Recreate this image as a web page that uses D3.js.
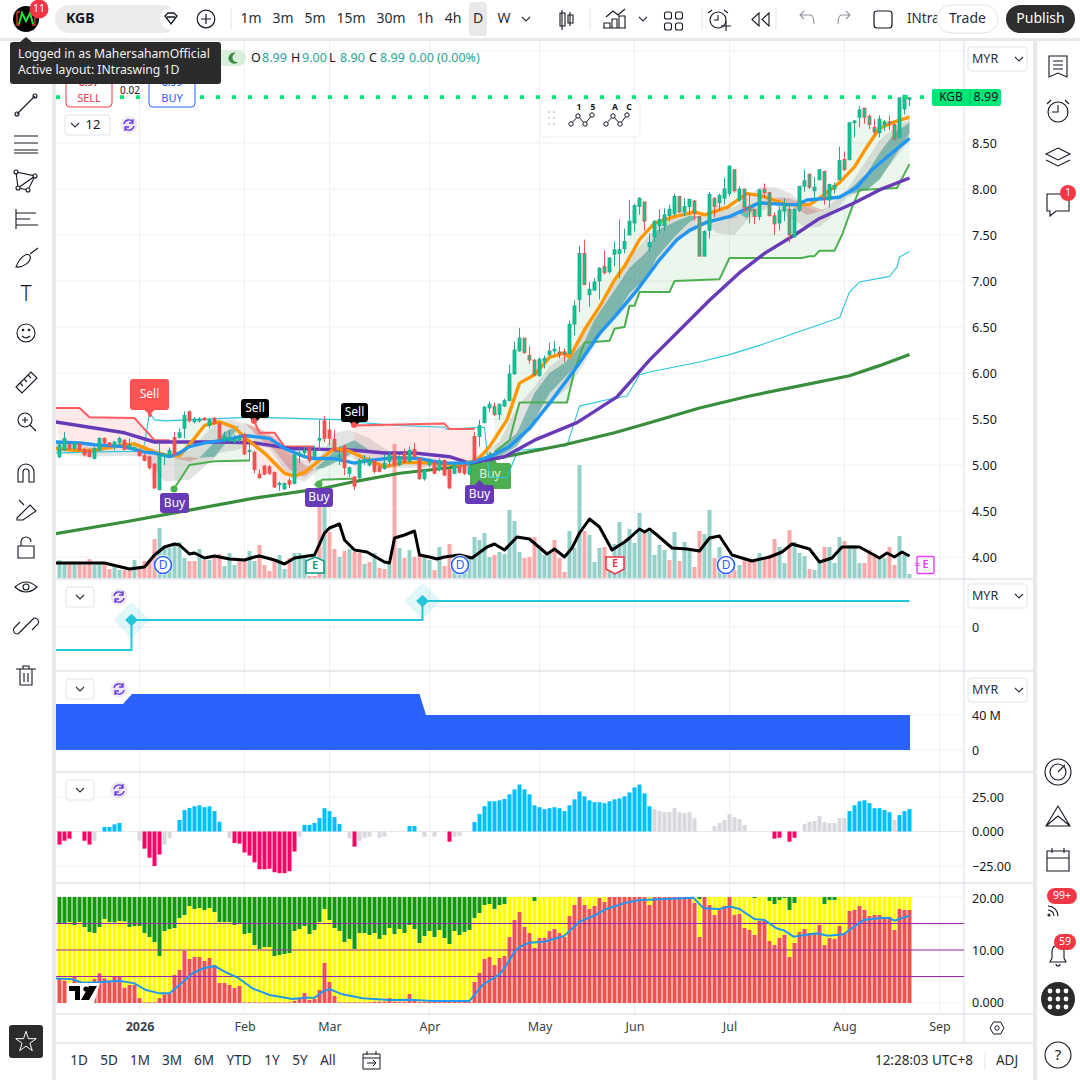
<!DOCTYPE html>
<html><head><meta charset="utf-8">
<script src="https://cdn.jsdelivr.net/npm/d3@7/dist/d3.min.js"></script>
<style>html,body{margin:0;padding:0;background:#fff}svg{display:block}text{font-family:"Noto Sans",sans-serif}</style>
</head><body><div id="c"></div>
<script>
const symbol="KGB";
const monthIdx=[16,37,54,74,96,115,134,157,176];
const monthLabels=["2026","Feb","Mar","Apr","May","Jun","Jul","Aug","Sep"];
const priceTicks=[4,4.5,5,5.5,6,6.5,7,7.5,8,8.5];
const opens=[5.09,5.16,5.22,5.18,5.23,5.17,5.16,5.07,5.16,5.29,5.24,5.22,5.24,5.27,5.19,5.17,5.15,5.10,5.09,5.01,4.73,5.10,5.11,5.30,5.30,5.40,5.58,5.47,5.48,5.51,5.43,5.51,5.45,5.27,5.27,5.25,5.27,5.33,5.15,5.14,4.90,4.99,4.98,4.92,4.79,4.74,4.83,4.80,5.11,5.13,5.18,5.09,5.27,5.48,5.38,5.28,5.10,5.20,4.91,4.87,4.86,5.04,5.00,5.05,4.98,4.96,5.04,5.13,5.00,5.13,5.04,5.17,5.07,4.85,5.00,5.02,4.95,5.05,4.95,4.91,4.99,5.00,4.90,5.31,5.31,5.46,5.62,5.64,5.55,5.64,5.70,5.99,6.24,6.38,6.19,6.14,5.97,6.13,6.20,6.24,6.23,6.23,6.21,6.53,6.80,7.30,6.85,6.90,7.00,7.16,7.10,7.29,7.30,7.35,7.50,7.63,7.81,7.86,7.37,7.48,7.60,7.60,7.71,7.73,7.92,7.75,7.81,7.87,7.70,7.27,7.55,7.90,7.85,7.90,7.95,8.21,7.88,8.00,7.80,7.78,7.70,8.00,7.96,7.71,7.63,7.76,7.78,7.48,7.77,8.03,8.16,7.98,8.10,8.19,7.88,8.00,8.10,8.32,8.32,8.72,8.78,8.88,8.79,8.67,8.61,8.70,8.73,8.70,8.56,8.87,8.99];
const highs=[5.25,5.36,5.24,5.25,5.24,5.18,5.18,5.20,5.30,5.30,5.25,5.26,5.31,5.28,5.29,5.20,5.18,5.12,5.10,5.02,5.24,5.13,5.19,5.36,5.40,5.58,5.59,5.52,5.52,5.52,5.51,5.52,5.47,5.36,5.38,5.33,5.33,5.35,5.27,5.15,4.95,5.00,5.00,4.93,4.82,4.81,4.86,5.13,5.18,5.20,5.19,5.21,5.49,5.53,5.49,5.38,5.20,5.22,4.98,4.88,5.07,5.11,5.09,5.05,5.02,5.11,5.15,5.15,5.11,5.18,5.20,5.24,5.08,4.96,5.07,5.05,5.07,5.06,4.95,5.01,5.00,5.01,5.05,5.36,5.49,5.64,5.69,5.68,5.67,5.72,6.09,6.34,6.49,6.38,6.29,6.15,6.17,6.19,6.33,6.35,6.29,6.27,6.57,6.79,7.38,7.45,6.99,7.03,7.15,7.33,7.26,7.43,7.67,7.57,7.88,7.84,7.91,7.86,7.52,7.66,7.78,7.79,7.83,7.95,7.92,7.90,7.89,7.88,7.71,7.55,7.97,7.91,7.95,8.12,8.25,8.21,8.03,8.00,7.95,7.78,8.00,8.06,7.97,7.75,7.81,7.90,7.84,7.79,8.03,8.21,8.17,8.13,8.21,8.20,8.06,8.07,8.46,8.41,8.73,8.75,8.90,8.88,8.81,8.76,8.80,8.75,8.80,8.72,9.00,9.02,9.00];
const lows=[5.07,5.15,5.16,5.16,5.15,5.09,5.08,5.06,5.15,5.23,5.18,5.16,5.22,5.16,5.17,5.15,5.10,5.04,4.95,4.74,4.73,5.00,5.09,5.11,5.29,5.29,5.46,5.45,5.46,5.48,5.40,5.44,5.27,5.25,5.24,5.23,5.24,5.11,5.04,4.91,4.85,4.89,4.89,4.75,4.72,4.73,4.75,4.79,5.02,5.09,5.02,5.07,5.16,5.25,5.21,5.15,5.00,4.89,4.87,4.73,4.85,5.00,4.98,4.91,4.92,4.95,4.98,4.98,4.99,5.02,5.03,5.08,4.84,4.83,4.98,4.90,4.93,4.88,4.74,4.90,4.91,4.89,4.89,5.05,5.20,5.45,5.58,5.53,5.49,5.63,5.69,5.98,6.23,6.21,6.10,5.97,5.96,6.05,6.18,6.21,6.16,6.12,6.20,6.41,6.66,6.96,6.72,6.90,6.80,7.07,7.08,7.16,7.03,7.30,7.50,7.54,7.72,7.55,7.32,7.43,7.52,7.54,7.65,7.71,7.74,7.71,7.72,7.66,7.27,7.27,7.46,7.69,7.77,7.83,7.92,7.96,7.86,7.75,7.63,7.62,7.66,7.90,7.70,7.50,7.55,7.65,7.42,7.47,7.75,7.97,8.00,7.90,8.10,7.83,7.80,7.95,8.10,8.20,8.31,8.56,8.67,8.71,8.65,8.60,8.56,8.63,8.64,8.53,8.55,8.81,8.90];
const closes=[5.22,5.29,5.18,5.24,5.16,5.11,5.09,5.18,5.29,5.24,5.21,5.25,5.29,5.17,5.22,5.19,5.10,5.05,4.97,4.75,5.11,5.12,5.16,5.11,5.35,5.54,5.48,5.50,5.50,5.49,5.49,5.45,5.29,5.31,5.29,5.28,5.30,5.12,5.16,4.95,4.86,4.90,4.91,4.76,4.80,4.80,4.79,5.11,5.13,5.16,5.05,5.15,5.29,5.29,5.29,5.16,5.11,4.97,4.97,4.77,5.05,5.06,5.05,4.93,4.93,5.02,5.11,5.00,5.09,5.03,5.16,5.09,4.85,4.95,5.04,4.91,5.05,4.89,4.75,5.00,4.92,4.91,4.98,5.05,5.43,5.63,5.66,5.55,5.66,5.70,5.99,6.25,6.38,6.22,6.14,5.98,6.15,6.16,6.24,6.26,6.21,6.20,6.53,6.73,7.30,6.96,6.91,6.99,7.14,7.09,7.25,7.34,7.34,7.43,7.65,7.82,7.90,7.65,7.42,7.65,7.67,7.72,7.78,7.92,7.75,7.81,7.89,7.73,7.27,7.54,7.94,7.81,7.93,8.00,8.25,7.98,8.00,7.80,7.77,7.70,7.99,7.96,7.71,7.62,7.77,7.83,7.50,7.78,8.03,8.09,8.02,8.02,8.21,7.90,8.05,8.04,8.31,8.21,8.72,8.74,8.86,8.78,8.70,8.62,8.76,8.73,8.71,8.54,8.99,9.02,8.99];
const volumes=[18,14,14,15,15,13,19,13,14,14,9,11,8,8,8,18,12,17,17,39,50,32,30,35,36,20,17,17,29,18,18,22,24,12,25,13,17,17,27,17,33,13,7,17,23,9,20,25,25,20,2,2,76,80,46,29,21,27,29,26,25,14,16,25,10,9,14,134,30,20,28,21,23,23,18,8,31,12,34,18,3,11,20,41,38,45,21,23,26,24,68,57,26,20,21,41,33,23,25,38,20,6,47,30,113,47,43,16,30,31,22,34,56,36,49,35,65,45,46,23,33,28,18,46,17,36,30,11,47,44,68,20,31,8,8,8,13,18,18,18,25,20,23,39,31,15,48,36,25,22,9,8,18,31,31,15,41,37,33,33,15,15,28,23,20,20,31,13,42,23,4];
const volDirList=["t","t","r","t","r","r","r","t","t","r","r","t","t","r","r","t","r","r","r","r","t","t","t","t","t","t","r","r","t","r","t","r","r","t","t","t","r","r","t","t","r","r","r","r","t","t","r","t","t","t","r","r","r","t","r","r","t","r","t","r","r","t","r","t","r","r","t","r","t","r","t","r","r","t","t","r","t","r","r","t","t","t","t","t","t","t","t","r","t","t","t","t","t","r","r","r","t","t","t","r","r","r","t","t","t","r","t","t","t","r","t","t","t","t","t","t","t","r","t","t","t","t","r","t","r","t","t","r","r","t","t","r","t","t","r","r","t","r","r","r","t","r","r","r","t","t","r","t","t","t","r","t","t","r","t","t","t","r","t","t","t","r","r","r","t","t","r","r","t","t","t"];
const volMaI=[-1,6,9,14,17,19,21,23,24,26,27,29,31,34,37,39,40,43,45,47,51,53,54,56,57,59,61.5,65,66,67,69,71,72,74,75.5,77,80,82.5,85.5,87,89,91.5,94,97.5,99,101,102.5,104,106,108,110.5,113,114,116,117,118,119.5,122.5,125.5,128,130,132,134.5,138.5,142,144.5,146.5,150,152,154.5,156.5,160,164,165.5,167,168.5,170];
const volMaV=[15,15,15,9,11,23,31,34,33,24,25,20,22,19,18,21,22,18,14,20,23,45,50,54,38,28,26,16,15,40,43,47,23,21,19,21,23,20,31,34,28,41,39,24,29,21,30,45,59,51,28,36,40,49,46,49,43,30,29,27,40,42,23,17,21,26,34,29,16,20,31,31,20,25,21,26,22];
const longMaI=[-1,13,26,39,53,59,68,78,89,101,111,118,128,138,148,158,164,170];
const longMaV=[4.25,4.38,4.51,4.64,4.75,4.82,4.91,4.97,5.09,5.22,5.35,5.46,5.62,5.75,5.86,5.97,6.08,6.20];
const purpleI=[-1,6,13,19,26,32,39,46,53,59,65,71,78,82,89,95,103.5,111.5,118,130,136,141,147,152,159,164,170];
const purpleV=[5.47,5.41,5.35,5.25,5.25,5.25,5.24,5.18,5.17,5.16,5.13,5.13,5.09,5.02,5.09,5.27,5.46,5.74,6.14,6.79,7.09,7.30,7.50,7.68,7.85,7.99,8.12];
const blueI=[-1,4,7,13,17,19,22,24,26,29,33,37,42,45,49,51,55,59,62,67,72,77,82,86,90,94,98,103.5,108,111,115.5,120,123.5,126,129.5,134,140,145.5,147.5,149.5,156,159.5,162.5,166,170];
const blueV=[5.25,5.24,5.22,5.20,5.14,5.13,5.09,5.13,5.20,5.24,5.27,5.32,5.29,5.18,5.09,5.07,5.07,5.02,5.05,5.08,5.07,5.02,5.02,5.09,5.20,5.40,5.67,6.07,6.43,6.61,6.90,7.23,7.45,7.55,7.64,7.70,7.85,7.83,7.83,7.88,7.91,8.02,8.21,8.37,8.55];
const orangeI=[-1,3,7,13,15,19,22,24,27,29,32,35,37,41,45,47,49,52,55,58,62,65,69,75,80,83.5,86,89.5,92,95,98,101,102,105,108,111,113,116,119,123,127,129,133.5,137.5,140,143,145.5,150,152.5,156,159,161.5,164,167,170];
const orangeV=[5.18,5.16,5.16,5.22,5.23,5.14,5.10,5.10,5.29,5.43,5.47,5.41,5.30,5.13,4.91,4.88,4.92,5.05,5.18,5.15,5.05,4.98,5.03,5.02,5.00,5.05,5.20,5.49,5.89,5.98,6.17,6.22,6.17,6.47,6.72,7.01,7.16,7.45,7.63,7.70,7.75,7.72,7.80,7.95,7.93,7.88,7.83,7.83,7.92,8.07,8.24,8.46,8.66,8.73,8.78];
const cyanI=[-1,5,16,17,18,19,21,39,57,58,68,77,77.4,85,86,89.5,91,92,101.5,104,109.5,113.5,116,118,128,134,140,148,156,157,158,160,166,167.5,168,170];
const cyanV=[5.13,5.14,5.15,5.22,5.57,5.49,5.48,5.52,5.49,5.47,5.43,5.41,5.39,5.41,4.87,4.86,5.07,5.16,5.21,5.64,5.71,5.75,5.98,6.01,6.12,6.20,6.30,6.45,6.60,6.74,6.88,6.99,7.05,7.15,7.26,7.32];
const stopUp1I=[23,26,31,38],stopUp1V=[4.75,5.00,5.04,5.05];
const stopUp2I=[51,52.5,58,59],stopUp2V=[4.78,4.84,4.85,4.85];
const stopUp3I=[87,90,92,101.5,103,105,110,111,113,114,115,116,122,123,132,134,148.5,150,151,152,155,156.5,158.5,160,167.5,170];
const stopUp3V=[5.14,5.27,5.68,5.68,6.03,6.33,6.35,6.48,6.50,6.73,6.73,6.88,6.88,7.00,7.02,7.25,7.25,7.27,7.27,7.33,7.33,7.50,7.80,7.99,8.01,8.27];
const stopDn1I=[-1,4,6,15,19,22],stopDn1V=[5.62,5.62,5.52,5.51,5.27,5.27];
const stopDn2I=[39,40,43,45,51],stopDn2V=[5.47,5.35,5.35,5.20,5.20];
const stopDn3I=[59,77,78,83],stopDn3V=[5.43,5.45,5.39,5.39];
const grayI=[-1,6,13,17,21,26,29,32,35,39,42,46,49,52,55,58,62,65,69,71.5,77,82,88,91.5,95,98,102,105,108,114,120,123,126,129,131.5,135,137.5,140,143,146,149.5,152,154,157.5,161.5,164,167,170];
const grayHi=[5.27,5.22,5.23,5.21,5.13,5.16,5.33,5.49,5.49,5.41,5.29,5.11,5.05,5.08,5.35,5.38,5.29,5.18,5.05,5.05,5.02,5.05,5.25,5.63,5.85,6.07,6.23,6.43,6.68,7.25,7.63,7.68,7.72,7.70,7.83,7.80,7.91,8.02,8.02,7.96,7.80,7.75,7.83,7.99,8.32,8.53,8.67,8.75];
const grayLo=[5.13,5.09,5.10,5.09,4.82,4.84,4.98,5.13,5.16,5.22,5.18,4.87,4.82,4.95,5.05,5.09,5.00,4.97,4.97,4.97,4.98,5.02,5.05,5.24,5.41,5.67,5.85,6.11,6.39,6.76,7.20,7.41,7.52,7.63,7.52,7.50,7.66,7.75,7.83,7.68,7.58,7.59,7.68,7.91,7.99,8.12,8.32,8.53];
const tealA_I=[86,91.5,95,98,101,105,107,111,114,117.5,119.5,123,126,128],tealA_Hi=[5.08,5.35,5.78,6.00,6.11,6.34,6.58,6.90,7.14,7.32,7.55,7.64,7.71,7.70],tealA_Lo=[5.03,5.20,5.49,5.78,5.95,6.17,6.33,6.61,6.87,7.04,7.26,7.48,7.64,7.70];
const tealB_I=[155,157.5,161.5,164,167,170],tealB_Hi=[7.91,7.97,8.17,8.39,8.61,8.72],tealB_Lo=[7.91,7.94,7.99,8.10,8.35,8.61];
const tealC_I=[135.5,137.5,139,140],tealC_Hi=[7.75,7.80,7.85,7.86],tealC_Lo=[7.75,7.68,7.80,7.86];
const tealD_I=[28,31,33,35,36],tealD_Hi=[5.08,5.25,5.36,5.41,5.43],tealD_Lo=[5.08,5.09,5.22,5.35,5.43];
const tealE_I=[51,53,56,59,62],tealE_Hi=[4.95,5.05,5.20,5.27,5.16],tealE_Lo=[4.95,4.97,5.05,5.14,5.16];
const redA_I=[23,26,28],redA_Hi=[5.07,5.09,5.07],redA_Lo=[5.07,5.04,5.07];
const redB_I=[37,40,43,46,49,51],redB_Hi=[5.46,5.40,5.30,5.16,5.00,4.95],redB_Lo=[5.46,5.29,5.16,4.95,4.87,4.95];
const redC_I=[132,134,136],redC_Hi=[7.70,7.72,7.69],redC_Lo=[7.70,7.68,7.69];
const redD_I=[143,146,149.5,153],redD_Hi=[7.91,7.90,7.83,7.77],redD_Lo=[7.91,7.83,7.72,7.77];
const stepI=[-1,14.4,14.4,72.6,72.6,170],stepV=[-23,-23,7,7,26,26];
const blockI=[-1,12.7,14.5,72,73.3,170.1],blockV=[52.6,52.6,64,64,40,40];
const histV=[-9.5,-6.7,-5.2,0,0,-6.7,-9.5,-6.7,0,3.3,3.3,5.2,6.2,0,0,0,-6.7,-12.4,-19,-25,-16.7,-9.5,-4.8,0,8.3,15.5,17.1,18.3,19,17.6,18.3,14.8,7.1,0,-4.8,-8.3,-8.8,-15.2,-17.4,-22.4,-27.4,-27.4,-27,-29.5,-30.2,-30.2,-28.8,-14.5,-3.8,4.8,4.8,6.2,9.8,16.9,14.8,10.5,5.5,0,-5.2,-11,-6.7,-4.5,-3.8,0,-4.5,-3.8,0,0,0,0,4,4,0,-3.8,0,-3.8,0,0,-7.4,-3.8,-3.1,0,0,6.9,12.6,18.3,21.9,21.9,22.6,23.6,26.9,30.5,34,30.5,26.9,19,17.6,16.2,16.9,17.6,16.9,14.8,19,23.3,29,25.5,22.6,21.2,21.2,20.5,21.9,23.3,24,25.5,28.3,31.9,34,27.6,18.3,16.2,14.8,14,14,16.9,14,13.3,14,9.8,0,0,0,4,6.2,8.3,12.6,10.5,9,4.8,0,0,0,0,0,-5.2,-4.5,0,-7.4,-4.5,0,5.5,6.9,7.6,11.2,6.9,6.2,6.2,9.8,9.8,14.8,19,21.9,22.6,20.5,16.9,16.9,15.5,14,8.3,11.9,14.8,16.2];
const histGrayIdx=[7,16,21,22,34,48,58,60,61,62,64,65,73,75,79,80,119,120,121,122,123,124,125,126,127,131,132,133,134,135,136,137,149,150,151,152,153,154,155,156,157,167];
const mfRed=[4.53,4.21,2.14,4.97,3.9,3.71,3.9,4.53,5.6,4.65,4.21,4.97,4.9,2.89,3.4,3.4,.94,.13,.13,.13,.94,1.64,1.82,5.28,6.23,9.81,8.3,8.68,8.68,7.92,8.49,7.17,3.77,3.77,3.4,2.83,3.21,.13,.13,.13,.13,.13,.13,.13,.13,.13,.13,.38,.75,1.89,.57,.75,2.45,7.55,3.96,1.32,.13,.13,.13,.13,.13,.13,.13,.25,.25,.25,.94,.25,.25,.25,1.7,.38,.2,.2,.2,.2,.2,.2,.2,.2,.2,.2,.2,3.96,5.66,8.3,8.68,7.17,8.49,8.87,12.45,15.66,17.17,14.34,13.21,10.38,12.26,12.26,13.58,13.96,13.21,12.45,16.42,18.49,20,18.49,17.74,18.3,19.81,19.06,20,20,20,20,20,20,20,20,18.49,20,20,20,20,20,20,20,20,18.87,12.45,20,18.49,16.6,17.55,18.3,20,16.6,16.79,14.15,13.77,12.83,15.47,15.47,11.7,10.94,12.26,12.83,8.68,11.32,13.4,13.96,13.21,13.21,14.72,10.94,12.26,12.08,14.53,13.21,17.36,17.55,18.3,17.55,16.42,16.6,16.6,16.23,16.23,13.77,17.74,17.55,17.55];
const mfYellowTop=[15.03,15.03,15.28,14.72,15.28,14.34,13.4,13.21,14.34,15.85,15.28,15.16,15.47,15.35,14.34,14.53,14.53,13.21,12.45,11.51,8.87,13.58,13.96,14.15,15.97,16.6,18.3,17.74,17.92,17.55,17.92,17.17,15.28,15.28,15.28,14.72,14.91,13.02,13.21,10.94,10.19,10.57,10.57,8.87,9.06,9.25,9.43,13.58,13.96,14.53,13.02,13.77,15.28,17.74,15.66,14.15,13.58,11.51,12.08,10.19,13.21,13.21,12.83,13.21,12.08,12.83,14.15,13.02,13.96,13.21,14.72,13.96,11.32,12.64,13.58,12.45,13.77,12.26,11.13,13.58,12.83,13.4,13.77,16.04,16.98,18.49,18.68,17.74,18.49,18.68,20,20,20,20,20,19.25,20,20,20,20,20,20,20,20,20,20,20,20,20,20,20,20,20,20,20,20,20,20,20,20,20,20,20,20,20,20,20,20,19.6,20,20,20,20,20,20,20,20,20,20,19.8,20,20,19.25,18.68,19.43,19.81,17.55,18.87,20,20,20,20,20,18.68,19.43,19.43,20,20,20,20,20,20,20,20,20,20,20,20,20,20,20];
const mfLineI=[-1,2.6,4.6,8,12,15,17.3,20,22,24,26.6,28.6,31,33,35.6,38.6,42,46.6,49,51,52.6,54,56.6,60.6,66,70,74.6,82,84.6,88,89.4,91,92,94,97,100,101,104,106.8,109.4,112.8,116,121.4,126.8,128.8,132,134,136,139,141,143.4,145,146.8,151.4,153.7,156.8,160.8,164,165.8,167,170];
const mfLineV=[4.65,4.46,3.84,3.9,4.21,3.71,2.45,1.82,1.82,3.4,5.6,6.5,7.0,5.9,4.8,2.76,1.5,.75,1.0,1.0,2.14,2.64,1.64,.88,.57,.63,.38,.38,3.4,5.4,7.17,9.69,10.6,11.38,11.57,12.39,12.7,15.35,16.42,17.74,18.8,19.43,19.62,19.87,17.86,17.74,18.18,17.74,15.85,15.66,14.09,13.65,12.52,13.14,12.7,12.96,15.66,15.97,16.1,15.53,16.48];
const rangeButtons=["1D","5D","1M","3M","6M","YTD","1Y","5Y","All"];
const intervals=["1m","3m","5m","15m","30m","1h","4h","D","W"];

const W=1080,H=1080;
const svg=d3.select("#c").append("svg").attr("width",W).attr("height",H).attr("viewBox",`0 0 ${W} ${H}`);
const xS=d3.scaleLinear().domain([0,170]).range([59.5,909.5]);
const yP=d3.scaleLinear().domain([4,9]).range([557,97]);
const yVol=d3.scaleLinear().domain([0,113]).range([578,465]);
const yStep=d3.scaleLinear().domain([-23,26]).range([650,601]);
const yBlock=d3.scaleLinear().domain([0,40]).range([750,715]);
const yHist=d3.scaleLinear().domain([-25,25]).range([866,797]);
const yMf=d3.scaleLinear().domain([0,20]).range([1003,897]);
const GRID="#eef0f4",SEP="#e0e3eb",INK="#131722";
function T(p,x,y,s,o={}){const e=p.append("text").attr("x",x).attr("y",y).text(s).attr("font-size",o.size||13).attr("fill",o.fill||INK).attr("text-anchor",o.anchor||"start").attr("dominant-baseline","middle");if(o.weight)e.attr("font-weight",o.weight);return e;}
svg.append("rect").attr("width",W).attr("height",H).attr("fill","#fff");
const defs=svg.append("defs");
defs.append("clipPath").attr("id","main").append("rect").attr("x",56).attr("y",41).attr("width",908).attr("height",537);
defs.append("clipPath").attr("id","plot").append("rect").attr("x",56).attr("y",41).attr("width",908).attr("height",973);

const grid=svg.append("g");
const gridH=[51,...priceTicks.map(yP),yP(9),yStep(0),yBlock(0),yBlock(40),yHist(25),yHist(0),yHist(-25),yMf(20),yMf(10),yMf(0)];
grid.selectAll("line.h").data(gridH).join("line").attr("x1",56).attr("x2",964).attr("y1",d=>d).attr("y2",d=>d).attr("stroke",GRID);
grid.selectAll("line.v").data(monthIdx).join("line").attr("x1",d=>xS(d)).attr("x2",d=>xS(d)).attr("y1",41).attr("y2",1014).attr("stroke",GRID);
[579,671,772,883,1014].forEach(y=>grid.append("line").attr("x1",56).attr("x2",1033).attr("y1",y).attr("y2",y).attr("stroke",SEP).attr("stroke-width",1.4));
grid.append("line").attr("x1",964).attr("x2",964).attr("y1",41).attr("y2",1043).attr("stroke",SEP).attr("stroke-width",1.2);

const idx=d3.range(171);
const main=svg.append("g").attr("clip-path","url(#main)");
main.selectAll("rect.vol").data(idx).join("rect").attr("x",i=>xS(i)-2).attr("width",4).attr("y",i=>yVol(volumes[i])).attr("height",i=>578-yVol(volumes[i])).attr("fill",i=>volDirList[i]==="t"?"#93d1ca":"#f9a9a9");
const pl=(I,V,y=yP)=>d3.line()(I.map((d,k)=>[xS(d),y(V[k])]));
function band(I,Hi,Lo,fill,op){main.append("path").attr("d",d3.area().x(k=>xS(I[k])).y0(k=>yP(Lo[k])).y1(k=>yP(Hi[k]))(d3.range(I.length))).attr("fill",fill).attr("fill-opacity",op);}
function stopFill(I,V,fill){const a=Math.max(0,Math.ceil(I[0])),b=Math.floor(I[I.length-1]);const pts=I.map((d,k)=>[xS(d),yP(V[k])]);for(let i=b;i>=a;i--)pts.push([xS(i),yP(closes[i])]);main.append("path").attr("d",d3.line()(pts)+"Z").attr("fill",fill);}
stopFill(stopUp1I,stopUp1V,"rgba(76,175,80,.11)");stopFill(stopUp2I,stopUp2V,"rgba(76,175,80,.11)");stopFill(stopUp3I,stopUp3V,"rgba(76,175,80,.11)");
stopFill(stopDn1I,stopDn1V,"rgba(255,82,82,.12)");stopFill(stopDn2I,stopDn2V,"rgba(255,82,82,.12)");stopFill(stopDn3I,stopDn3V,"rgba(255,82,82,.12)");
band(grayI,grayHi,grayLo,"#8a8a8a",.24);
[[tealA_I,tealA_Hi,tealA_Lo],[tealB_I,tealB_Hi,tealB_Lo],[tealC_I,tealC_Hi,tealC_Lo],[tealD_I,tealD_Hi,tealD_Lo],[tealE_I,tealE_Hi,tealE_Lo]].forEach(a=>band(a[0],a[1],a[2],"#2a8f84",.5));
[[redA_I,redA_Hi,redA_Lo],[redB_I,redB_Hi,redB_Lo],[redC_I,redC_Hi,redC_Lo],[redD_I,redD_Hi,redD_Lo]].forEach(a=>band(a[0],a[1],a[2],"#c9504f",.32));
// green entry label sits under the indicator lines
main.append("rect").attr("x",470).attr("y",463).attr("width",41).attr("height",26).attr("rx",2).attr("fill","#4caf50");
main.append("path").attr("d","M484 463L490 451L497 463Z").attr("fill","#4caf50");
T(main,490,474.5,"Buy",{fill:"#e8f5e9",anchor:"middle",size:12});
const L=(d,c,w)=>main.append("path").attr("d",d).attr("fill","none").attr("stroke",c).attr("stroke-width",w).attr("stroke-linejoin","round");
L(pl(cyanI,cyanV),"#26c6da",1.1);
[[stopUp1I,stopUp1V],[stopUp2I,stopUp2V],[stopUp3I,stopUp3V]].forEach(a=>L(pl(a[0],a[1]),"#4caf50",2));
[[stopDn1I,stopDn1V],[stopDn2I,stopDn2V],[stopDn3I,stopDn3V]].forEach(a=>L(pl(a[0],a[1]),"#ff5a5f",2));
L(pl(longMaI,longMaV),"#388e3c",3.2);
L(pl(volMaI,volMaV,yVol),"#000",3);
L(pl(purpleI,purpleV),"#673ab7",3.4);
L(pl(orangeI,orangeV),"#ff9800",3.4);
L(pl(blueI,blueV),"#2196f3",3.4);
// candles
const upS="#26a69a",upF="#08c98c",dnS="#ef5350";
main.selectAll("line.w").data(idx).join("line").attr("x1",i=>xS(i)).attr("x2",i=>xS(i)).attr("y1",i=>yP(highs[i])).attr("y2",i=>yP(lows[i])).attr("stroke",i=>closes[i]>=opens[i]?upS:dnS).attr("stroke-width",1);
main.selectAll("rect.b").data(idx).join("rect").attr("x",i=>xS(i)-1.5).attr("width",3).attr("y",i=>yP(Math.max(opens[i],closes[i]))).attr("height",i=>Math.max(1.5,Math.abs(yP(opens[i])-yP(closes[i])))).attr("fill",i=>closes[i]>=opens[i]?upF:(i>=84?upF:dnS)).attr("stroke",i=>closes[i]>=opens[i]?upS:dnS).attr("stroke-width",.8);

// markers
function bubble(x0,y0,w,h,fill,txt,tip,size){const g=svg.append("g");g.append("rect").attr("x",x0).attr("y",y0).attr("width",w).attr("height",h).attr("rx",3).attr("fill",fill);const cx=x0+w/2;if(tip>0)g.append("path").attr("d",`M${cx-5} ${y0+h}L${cx} ${y0+h+5}L${cx+5} ${y0+h}Z`).attr("fill",fill);else if(tip<0)g.append("path").attr("d",`M${cx-5} ${y0}L${cx} ${y0-5}L${cx+5} ${y0}Z`).attr("fill",fill);T(g,cx,y0+h/2+.5,txt,{fill:"#fff",anchor:"middle",size:size||12});}
bubble(130,379,39,31,"#ff5252","Sell",1);
svg.append("circle").attr("cx",150).attr("cy",415).attr("r",2).attr("fill","#ff5252");
bubble(241,399,28,19,"#000","Sell",1);svg.append("circle").attr("cx",254).attr("cy",421).attr("r",3).attr("fill","#ff5252");
bubble(341,403,27,19,"#000","Sell",1);svg.append("circle").attr("cx",354).attr("cy",425).attr("r",3).attr("fill","#ff5252");
svg.append("circle").attr("cx",174).attr("cy",489).attr("r",3.5).attr("fill","#4caf50");
bubble(160,493,29,20,"#673ab7","Buy",0);
svg.append("circle").attr("cx",319).attr("cy",484).attr("r",3.5).attr("fill","#4caf50");
bubble(305,488,28,19,"#673ab7","Buy",0);
bubble(465,485,29,19,"#673ab7","Buy",-1);
function earn(x,kind){const g=svg.append("g").attr("transform",`translate(${x},565)`);
 if(kind==="D"){g.append("circle").attr("r",10).attr("fill","#fff");g.append("circle").attr("r",8.5).attr("fill","#fff").attr("stroke","#2962ff").attr("stroke-width",1.7);T(g,0,.5,"D",{fill:"#2962ff",anchor:"middle",size:12});}
 if(kind==="Et"){g.append("path").attr("d","M0 -8L9 -4V8H-9V-4Z").attr("fill","#fff").attr("stroke","#089981").attr("stroke-width",1.5);T(g,0,1.5,"E",{fill:"#089981",anchor:"middle",size:11,weight:600});}
 if(kind==="Er"){g.append("path").attr("d","M-9 -8H9V4L0 9L-9 4Z").attr("fill","#fff").attr("stroke","#f23645").attr("stroke-width",1.5);T(g,0,-.5,"E",{fill:"#f23645",anchor:"middle",size:11,weight:600});}
 if(kind==="Em"){g.append("rect").attr("x",-7).attr("y",-8.5).attr("width",17).attr("height",17).attr("rx",1).attr("fill","#fff").attr("stroke","#e040fb").attr("stroke-width",1.4);T(g,1.5,.5,"E",{fill:"#e040fb",anchor:"middle",size:11,weight:600});T(g,-7,.5,"≈",{fill:"#e040fb",anchor:"middle",size:11});}
}
earn(163,"D");earn(315,"Et");earn(460,"D");earn(615,"Er");earn(726,"D");earn(924,"Em");

// last price
svg.append("line").attr("x1",56).attr("x2",930).attr("y1",yP(closes[170])-.7).attr("y2",yP(closes[170])-.7).attr("stroke","#00e676").attr("stroke-width",3.8).attr("stroke-dasharray","4 12").attr("stroke-dashoffset",-0);

// step pane
const plot=svg.append("g").attr("clip-path","url(#plot)");
plot.append("path").attr("d",pl(stepI,stepV,yStep)).attr("fill","none").attr("stroke","#26c6da").attr("stroke-width",2);
[[stepI[1],stepV[2]],[stepI[3],stepV[4]]].forEach(d=>{const g=plot.append("g").attr("transform",`translate(${xS(d[0])},${yStep(d[1])}) rotate(45)`);g.append("rect").attr("x",-13).attr("y",-13).attr("width",26).attr("height",26).attr("rx",4).attr("fill","#26c6da").attr("fill-opacity",.14);g.append("rect").attr("x",-4.5).attr("y",-4.5).attr("width",9).attr("height",9).attr("fill","#26c6da");});
// block pane
plot.append("path").attr("d",d3.area().x(k=>xS(blockI[k])).y0(yBlock(0)).y1(k=>yBlock(blockV[k]))(d3.range(blockI.length))).attr("fill","#2962ff");
// hist pane
plot.append("line").attr("x1",56).attr("x2",964).attr("y1",yHist(0)).attr("y2",yHist(0)).attr("stroke","#e3e5ea").attr("stroke-dasharray","6 3");
const graySet=new Set(histGrayIdx);
plot.selectAll("rect.h").data(idx.filter(i=>histV[i]!==0)).join("rect").attr("x",i=>xS(i)-2).attr("width",4).attr("y",i=>Math.min(yHist(0),yHist(histV[i]))).attr("height",i=>Math.abs(yHist(histV[i])-yHist(0))).attr("fill",i=>graySet.has(i)?"#d8d9de":histV[i]>0?"#00bfff":"#ff0066");
// money flow pane
const mf=plot.append("g");
mf.selectAll("rect.g").data(idx).join("rect").attr("x",i=>xS(i)-2).attr("width",4).attr("y",yMf(20)).attr("height",i=>yMf(mfYellowTop[i])-yMf(20)).attr("fill","#129a0a");
mf.selectAll("rect.y").data(idx).join("rect").attr("x",i=>xS(i)-2).attr("width",4).attr("y",i=>yMf(mfYellowTop[i])).attr("height",i=>yMf(mfRed[i])-yMf(mfYellowTop[i])).attr("fill","#ffff00");
mf.selectAll("rect.r").data(idx).join("rect").attr("x",i=>xS(i)-2).attr("width",4).attr("y",i=>yMf(mfRed[i])).attr("height",i=>yMf(0)-yMf(mfRed[i])).attr("fill","#ef5350");
[5,10,15].forEach(v=>mf.append("line").attr("x1",56).attr("x2",964).attr("y1",yMf(v)).attr("y2",yMf(v)).attr("stroke","#9c27b0").attr("stroke-width",1));
mf.append("path").attr("d",pl(mfLineI,mfLineV,yMf)).attr("fill","none").attr("stroke","#2196f3").attr("stroke-width",2);
// TV logo
const tv=svg.append("g").attr("transform","translate(67,982)");
tv.append("path").attr("d","M0 1H33L27 21H0Z").attr("fill","#fff");
tv.append("path").attr("d","M2 4H13V18H8V9H2Z").attr("fill","#000");
tv.append("circle").attr("cx",19).attr("cy",7).attr("r",2.6).attr("fill","#000");
tv.append("path").attr("d","M14 18L22 4H30L22 18Z").attr("fill","#000");

// axes
function rAxis(scale,vals,fmt){const g=svg.append("g").attr("transform","translate(964,0)").call(d3.axisRight(scale).tickValues(vals).tickFormat(fmt).tickSize(0).tickPadding(8));g.select(".domain").remove();g.selectAll("text").attr("font-family","'Noto Sans',sans-serif").attr("font-size",12.5).attr("fill",INK);}
rAxis(yP,priceTicks,d=>d.toFixed(2));
rAxis(yStep,[0],()=>"0");
rAxis(yBlock,[0,40],d=>d?"40 M":"0");
rAxis(yHist,[-25,0,25],d=>d===0?"0.000":(d<0?"−25.00":"25.00"));
rAxis(d3.scaleLinear().domain([0,20]).range([1002,898]),[0,10,20],d=>d===0?"0.000":d.toFixed(2));
const xa=svg.append("g").attr("transform","translate(0,1022)").call(d3.axisBottom(xS).tickValues(monthIdx).tickFormat((d,i)=>monthLabels[i]).tickSize(0).tickPadding(0));
xa.select(".domain").remove();xa.selectAll("text").attr("font-family","'Noto Sans',sans-serif").attr("font-size",12.5).attr("fill","#3a3f4b").attr("font-weight",(d,i)=>i===0?700:400);

// price label
svg.append("rect").attr("x",932).attr("y",89).attr("width",69).attr("height",17).attr("rx",2).attr("fill","#00e676");
svg.append("line").attr("x1",970).attr("x2",970).attr("y1",89).attr("y2",106).attr("stroke","#00c965");
T(svg,951,97.5,symbol,{anchor:"middle",size:12});T(svg,986,97.5,closes[170].toFixed(2),{anchor:"middle",size:12.5});

// chrome frames
const ch=svg.append("g");
ch.append("rect").attr("x",0).attr("y",38).attr("width",W).attr("height",3).attr("fill","#e9e9ea");
ch.append("rect").attr("x",52).attr("y",41).attr("width",4).attr("height",H).attr("fill","#e9e9ea");
ch.append("rect").attr("x",1033).attr("y",41).attr("width",4).attr("height",H).attr("fill","#e9e9ea");
ch.append("line").attr("x1",56).attr("x2",1033).attr("y1",1043).attr("y2",1043).attr("stroke","#e9e9ea").attr("stroke-width",2);
// top bar
ch.append("circle").attr("cx",26).attr("cy",19).attr("r",13).attr("fill","#000");
ch.append("path").attr("d","M19 24L22 13L26 21L30 13L33 24").attr("fill","none").attr("stroke","#1de33a").attr("stroke-width",2);
ch.append("path").attr("d","M20 12H17V25H20M32 12H35V25H32").attr("fill","none").attr("stroke","#e53935").attr("stroke-width",1.3);
ch.append("circle").attr("cx",39).attr("cy",9).attr("r",9.5).attr("fill","#f23645");
T(ch,39,9.5,"11",{fill:"#fff",anchor:"middle",size:10.5});
ch.append("rect").attr("x",55).attr("y",5).attr("width",122).attr("height",28).attr("rx",14).attr("fill","#ebebeb");
T(ch,66,19.5,symbol,{size:14,weight:700});
ch.append("circle").attr("cx",171).attr("cy",19).attr("r",11).attr("fill","#fff");
ch.append("path").attr("d","M165 16L168 13H174L177 16L171 24Z M167 17L175 17").attr("fill","none").attr("stroke",INK).attr("stroke-width",1.3);
ch.append("circle").attr("cx",206).attr("cy",19).attr("r",8.8).attr("fill","none").attr("stroke",INK).attr("stroke-width",1.2);
ch.append("path").attr("d","M201 19H211M206 14V24").attr("stroke",INK).attr("stroke-width",1.2);
ch.append("line").attr("x1",231).attr("x2",231).attr("y1",8).attr("y2",30).attr("stroke",SEP);
ch.append("rect").attr("x",469).attr("y",2).attr("width",18).attr("height",34).attr("rx",4).attr("fill","#e9e9ea");
const intX=[251,283,315,351,391,425,453,478,504];
intervals.forEach((s,i)=>T(ch,intX[i],19.5,s,{anchor:"middle",size:14,fill:"#2a2e39"}));
const chev=(x,y,c="#2a2e39")=>ch.append("path").attr("d",`M${x-4} ${y-2}L${x} ${y+2}L${x+4} ${y-2}`).attr("fill","none").attr("stroke",c).attr("stroke-width",1.1);
chev(526,19);chev(643,19);
ch.append("path").attr("d","M562 10V30M560 13H565V26H560ZM570 12V26M568 15H573V23H568Z").attr("fill","none").attr("stroke",INK).attr("stroke-width",1.1);
[590,702,776].forEach(x=>ch.append("line").attr("x1",x).attr("x2",x).attr("y1",8).attr("y2",30).attr("stroke",SEP));
ch.append("path").attr("d","M606 17L613 11L618 15L625 9M604 28V23H610V28M612 28V19H617V28M619 28V16H625V28M603 28H626").attr("fill","none").attr("stroke",INK).attr("stroke-width",1.1);
[[664,12],[675,12],[664,23],[675,23]].forEach(d=>ch.append("rect").attr("x",d[0]+.5).attr("y",d[1]).attr("width",7).attr("height",7).attr("rx",2).attr("fill","none").attr("stroke",INK).attr("stroke-width",1.1));
ch.append("circle").attr("cx",718).attr("cy",20).attr("r",8).attr("fill","none").attr("stroke",INK).attr("stroke-width",1.1);
ch.append("path").attr("d","M718 15V20H714M708 13L712 10M728 13L724 10M721 26H731M726 21V31").attr("fill","none").attr("stroke",INK).attr("stroke-width",1.1);
ch.append("path").attr("d","M759 13L752 19.5L759 26ZM769 13L762 19.5L769 26Z").attr("fill","none").attr("stroke",INK).attr("stroke-width",1.1);
ch.append("path").attr("d","M804 19L800 15L804 11M800 15H810Q814 15 814 24M846 19L850 15L846 11M850 15H842Q838 15 838 24").attr("fill","none").attr("stroke","#8f939e").attr("stroke-width",1.1);
ch.append("rect").attr("x",874).attr("y",11).attr("width",18).attr("height",17).attr("rx",3).attr("fill","none").attr("stroke",INK).attr("stroke-width",1.2);
T(ch,907,19.5,"INtra",{size:13.5,fill:"#2a2e39"});
ch.append("rect").attr("x",937).attr("y",5).attr("width",61).attr("height",28).attr("rx",14).attr("fill","#fff").attr("stroke","#e4e4e6");
T(ch,967.5,19.5,"Trade",{anchor:"middle",size:14,fill:"#2a2e39"});
ch.append("rect").attr("x",1006).attr("y",5).attr("width",69).attr("height",28).attr("rx",14).attr("fill","#2e2e2e");
T(ch,1040.5,19.5,"Publish",{anchor:"middle",size:14,fill:"#fff"});
// legend
ch.append("rect").attr("x",214).attr("y",50).attr("width",32).attr("height",16).attr("rx",8).attr("fill","#d9eedc");
ch.append("path").attr("d","M236 53A5.5 5.5 0 1 0 238 62A4.5 4.5 0 0 1 236 53Z").attr("fill","#388e3c");
const legX=[251,262,291,302,329,340,369,380],legS=["O","8.99","H","9.00","L","8.90","C","8.99"];
legS.forEach((s,i)=>T(ch,legX[i],58.5,s,{size:12.5,fill:i%2?"#26a69a":INK}));
T(ch,409,58.5,"0.00 (0.00%)",{size:12.5,fill:"#26a69a"});
// buy/sell
ch.append("rect").attr("x",66).attr("y",76).attr("width",46).attr("height",31).attr("rx",4).attr("fill","#fff").attr("stroke","#f23645");
T(ch,89,83.5,"8.97",{anchor:"middle",size:10,fill:"#f23645",weight:600});
T(ch,89,99,"SELL",{anchor:"middle",size:11,fill:"#f23645"});
ch.append("rect").attr("x",149).attr("y",76).attr("width",46).attr("height",31).attr("rx",4).attr("fill","#fff").attr("stroke","#2962ff");
T(ch,172,83.5,"8.99",{anchor:"middle",size:10,fill:"#2962ff",weight:600});
T(ch,172,99,"BUY",{anchor:"middle",size:11,fill:"#2962ff"});
T(ch,130,91,"0.02",{anchor:"middle",size:10,fill:INK});
// tooltip
ch.append("rect").attr("x",10).attr("y",42).attr("width",211).attr("height",42).attr("rx",3).attr("fill","#2b2b2b");
ch.append("path").attr("d","M20 42L26 37L32 42Z").attr("fill","#2b2b2b");
T(ch,18,54.5,"Logged in as MahersahamOfficial",{size:12.2,fill:"#f0f0f0"});
T(ch,18,71,"Active layout: INtraswing 1D",{size:12.2,fill:"#f0f0f0"});
// dropdowns
function dd(x,y,w,h){ch.append("rect").attr("x",x).attr("y",y).attr("width",w).attr("height",h).attr("rx",3).attr("fill","#fff").attr("stroke","#e0e3eb");}
function sync(x,y){ch.append("circle").attr("cx",x).attr("cy",y).attr("r",8.5).attr("fill","#ede7f6");ch.append("path").attr("d",`M${x-5} ${y-1}A5 5 0 0 1 ${x+4} ${y-3}M${x+5} ${y+1}A5 5 0 0 1 ${x-4} ${y+3}M${x+4} ${y-6}V${y-2}H${x}M${x-4} ${y+6}V${y+2}H${x}`).attr("fill","none").attr("stroke","#673ae6").attr("stroke-width",1.3);}
dd(65,115,45,20);chev(75,125);T(ch,93,125.5,"12",{anchor:"middle",size:13});sync(129,125);
[597,689,790].forEach(y=>{dd(66,y-10,28,20);chev(80,y);sync(119,y);});
[[968,47],[968,584],[968,678]].forEach(d=>{dd(d[0],d[1],59,24);T(ch,972,d[1]+12.5,"MYR",{size:12.5,fill:"#2a2e39"});chev(1019,d[1]+12);});
// floating widget
const fw=ch.append("g");
fw.append("rect").attr("x",540).attr("y",100).attr("width",100).attr("height",37).attr("rx",5).attr("fill","#fff").attr("stroke","#eceef2");
fw.selectAll("circle.dot").data([[549,112],[554,112],[549,118],[554,118],[549,124],[554,124]]).join("circle").attr("cx",d=>d[0]).attr("cy",d=>d[1]).attr("r",1).attr("fill","#c8cbd2");
[[571],[606]].forEach(([x0])=>{fw.append("path").attr("d",`M${x0} 124L${x0+7} 116L${x0+14} 124L${x0+21} 115`).attr("fill","none").attr("stroke",INK);[0,7,14,21].forEach((o,k)=>fw.append("circle").attr("cx",x0+o).attr("cy",[124,116,124,115][k]).attr("r",2.2).attr("fill","#fff").attr("stroke",INK));});
T(fw,579,108,"1",{anchor:"middle",size:8.5,weight:700});T(fw,593,108,"5",{anchor:"middle",size:8.5,weight:700});T(fw,615,108,"A",{anchor:"middle",size:8.5,weight:700});T(fw,629,108,"C",{anchor:"middle",size:8.5,weight:700});
// left tools
const tl=ch.append("g").attr("fill","none").attr("stroke",INK).attr("stroke-width",1.1);
const lp=d=>tl.append("path").attr("d",d);
lp("M17 114L35 96");tl.append("circle").attr("cx",17).attr("cy",114).attr("r",2);tl.append("circle").attr("cx",35).attr("cy",96).attr("r",2);
lp("M14 136H38M14 143H38M14 150H38M14 153H38");
lp("M18 188L16 172L35 176L28 190ZM18 188L35 176");[[18,188],[16,172],[35,176],[28,190]].forEach(d=>tl.append("circle").attr("cx",d[0]).attr("cy",d[1]).attr("r",2).attr("fill","#fff"));
lp("M16 209V229M16 213H36M16 219H30M16 225H38");
lp("M16 267C20 256 28 252 30 256C32 262 22 268 16 267ZM30 254L38 248");
T(ch,26,295.5,"T",{anchor:"middle",size:21,fill:INK}).attr("font-weight",300);
tl.append("circle").attr("cx",26).attr("cy",333).attr("r",9);lp("M22 336Q26 340 30 336");tl.append("circle").attr("cx",23).attr("cy",330).attr("r",.8);tl.append("circle").attr("cx",29).attr("cy",330).attr("r",.8);
lp("M16 387L31 372L37 378L22 393ZM20 383L23 386M24 379L27 382M28 375L31 378");
tl.append("circle").attr("cx",25).attr("cy",420).attr("r",7);lp("M30 425L36 431M22 420H28M25 417V423");
lp("M18 482V472A8 8 0 0 1 34 472V482H29V472A3 3 0 0 0 23 472V482Z");
lp("M17 518L30 505L36 511L23 520L17 520ZM19 500L24 505");
lp("M18 546H34V558H18ZM21 546V542A5 5 0 0 1 31 542");
lp("M15 587Q26 577 37 587Q26 597 15 587Z");tl.append("circle").attr("cx",26).attr("cy",587).attr("r",3);
lp("M22 630L18 634A4 4 0 0 1 14 628L20 622M30 622L34 618A4 4 0 0 1 38 624L32 630M20 632L32 620");
lp("M16 669H36M20 669V685H32V669M23 669V666H29V669M24 673V682M28 673V682");
ch.append("rect").attr("x",9).attr("y",1025).attr("width",34).attr("height",33).attr("rx",3).attr("fill","#2b2b2b");
ch.append("path").attr("d",d3.symbol(d3.symbolStar,130)()).attr("transform","translate(26,1042)").attr("fill","none").attr("stroke","#fff");
// right tools
const tr=ch.append("g").attr("fill","none").attr("stroke",INK).attr("stroke-width",1.1);
const rp=d=>tr.append("path").attr("d",d);
rp("M1049 56H1067V77L1058 73L1049 77ZM1053 61H1063M1053 65H1063M1053 69H1063");
tr.append("circle").attr("cx",1058).attr("cy",112).attr("r",10);rp("M1058 105V112H1052M1047 104L1051 100M1069 104L1065 100");
rp("M1058 148L1070 154L1058 160L1046 154ZM1046 160L1058 166L1070 160");
rp("M1047 194H1069V211H1056L1050 216V211H1047Z");
ch.append("circle").attr("cx",1068).attr("cy",193).attr("r",8).attr("fill","#f23645");T(ch,1068,193.5,"1",{fill:"#fff",anchor:"middle",size:10});
tr.append("circle").attr("cx",1058).attr("cy",772).attr("r",13);tr.append("circle").attr("cx",1058).attr("cy",772).attr("r",8);rp("M1058 772L1065 765");
rp("M1046 826L1058 806L1070 826ZM1046 826L1058 816L1070 826");
rp("M1047 851H1069V871H1047ZM1047 858H1069M1052 848V853M1064 848V853");
rp("M1048 906A10 10 0 0 1 1058 916M1048 910A6 6 0 0 1 1054 916");tr.append("circle").attr("cx",1049).attr("cy",915).attr("r",1);
rp("M1050 962H1066L1064 958V951A6 6 0 0 0 1052 951V958ZM1056 964A2 2 0 0 0 1060 964");
ch.append("rect").attr("x",1047).attr("y",888).attr("width",30).attr("height",16).attr("rx",8).attr("fill","#f23645");T(ch,1062,896.5,"99+",{fill:"#fff",anchor:"middle",size:10.5});
ch.append("rect").attr("x",1054).attr("y",934).attr("width",22).attr("height",16).attr("rx",8).attr("fill","#f23645");T(ch,1065,942.5,"59",{fill:"#fff",anchor:"middle",size:10.5});
ch.append("circle").attr("cx",1058).attr("cy",999).attr("r",17).attr("fill","#2b2b2b");
d3.range(9).forEach(k=>ch.append("circle").attr("cx",1050+8*(k%3)).attr("cy",991+8*Math.floor(k/3)).attr("r",2.4).attr("fill","#fff"));
tr.append("circle").attr("cx",1058).attr("cy",1055).attr("r",13);T(ch,1058,1056,"?",{anchor:"middle",size:15});
// bottom bar
const rx=[79,109,140,172,204,239,272,300,328];
rangeButtons.forEach((s,i)=>T(ch,rx[i],1061.5,s,{anchor:"middle",size:13.5,fill:"#2a2e39"}));
ch.append("path").attr("d","M363 1054H380V1069H363ZM363 1058H380M367 1051V1055M376 1051V1055M367 1063H376M373 1060L376 1063L373 1066").attr("fill","none").attr("stroke",INK).attr("stroke-width",1);
T(ch,924,1061.5,"12:28:03 UTC+8",{anchor:"middle",size:13.5,fill:"#2a2e39"});
T(ch,1007,1061.5,"ADJ",{anchor:"middle",size:13.5,fill:"#2a2e39"});
ch.append("line").attr("x1",985).attr("x2",985).attr("y1",1052).attr("y2",1070).attr("stroke",SEP);
ch.append("path").attr("d",d3.line()([[990,1028],[993.5,1022],[1000.5,1022],[1004,1028],[1000.5,1034],[993.5,1034],[990,1028]])).attr("fill","none").attr("stroke",INK);
ch.append("circle").attr("cx",997).attr("cy",1028).attr("r",2.2).attr("fill","none").attr("stroke",INK);
</script></body></html>
